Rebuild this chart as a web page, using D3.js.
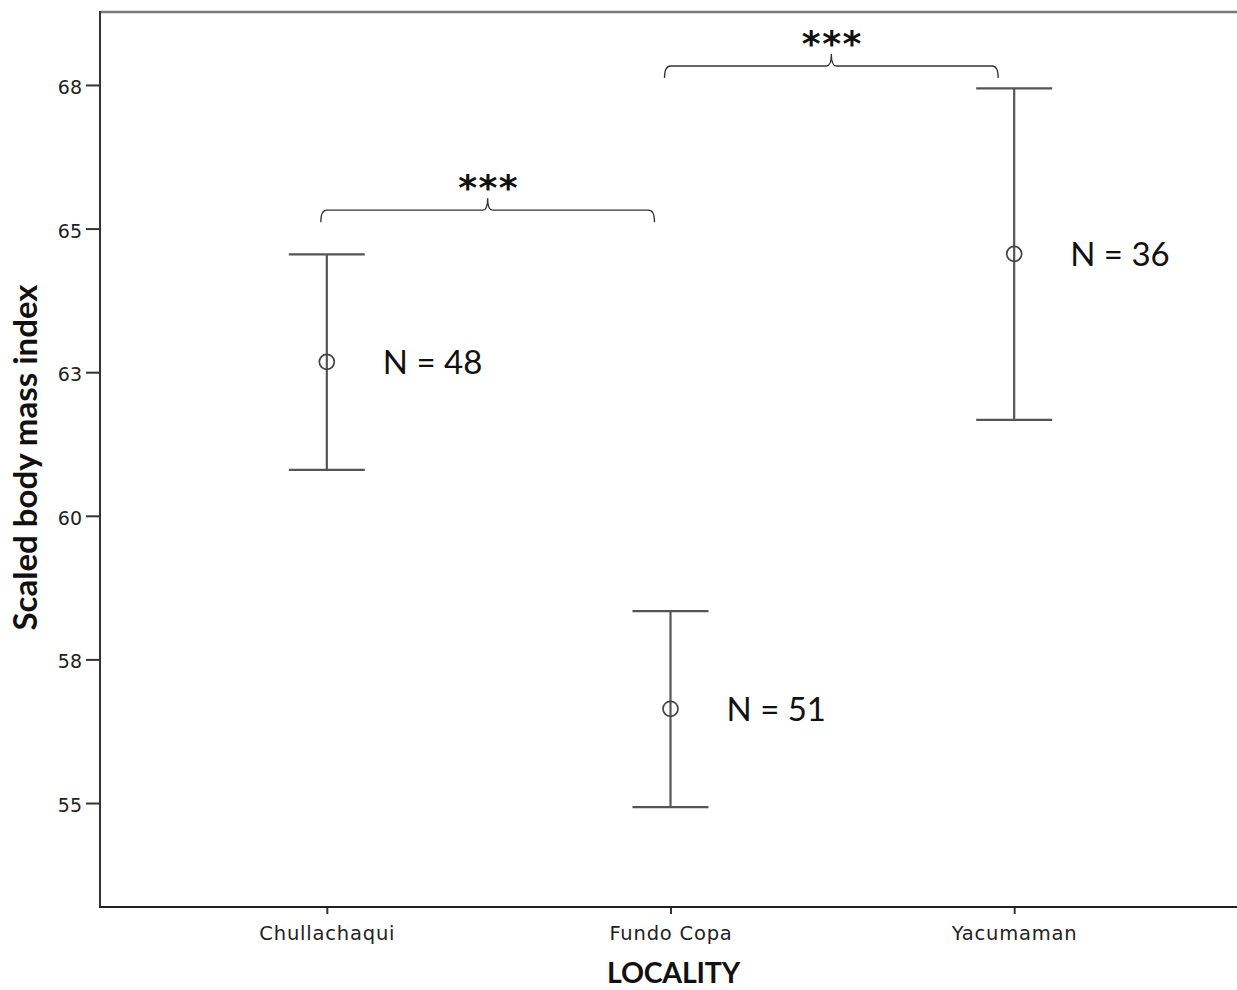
<!DOCTYPE html>
<html>
<head>
<meta charset="utf-8">
<script src="https://cdn.jsdelivr.net/npm/d3@7"></script>
<style>
  body { margin: 0; background: #fff; }
  svg { display: block; }
</style>
</head>
<body>
<svg id="chart" width="1237" height="990"></svg>
<script>
// data
const localities = ["Chullachaqui", "Fundo Copa", "Yacumaman"];
const means = [62.68, 56.64, 64.56];
const upper = [64.55, 58.34, 67.44];
const lower = [60.80, 54.93, 61.67];
const counts = [48, 51, 36];
const yTicks = [55, 57.5, 60, 62.5, 65, 67.5];

// significance brackets
const sigFrom = ["Chullachaqui", "Fundo Copa"];
const sigTo = ["Fundo Copa", "Yacumaman"];
const sigLabel = ["***", "***"];
const sigLevel = [65.32, 67.83];

const svg = d3.select("#chart");
const plotLeft = 100, plotRight = 1241, plotTop = 12, plotBottom = 907;

const x = d3.scalePoint().domain(localities).range([plotLeft, plotRight]).padding(0.66);
const y = d3.scaleLinear().domain([53.19, 68.77]).range([plotBottom, plotTop]);

// frame (top border grey)
svg.append("line")
    .attr("x1", plotLeft).attr("x2", plotRight)
    .attr("y1", plotTop).attr("y2", plotTop)
    .attr("stroke", "#7a7a7a").attr("stroke-width", 2.5);

// y axis
const yAxis = svg.append("g")
    .attr("transform", "translate(" + plotLeft + ",0)")
    .call(d3.axisLeft(y).tickValues(yTicks).tickFormat(d3.format(".0f")).tickSize(14).tickPadding(4));
yAxis.select(".domain").remove();
yAxis.append("line").attr("x1", 0).attr("x2", 0).attr("y1", plotTop - 1).attr("y2", plotBottom)
    .attr("stroke", "#333").attr("stroke-width", 2);
yAxis.selectAll(".tick line").attr("stroke", "#333").attr("stroke-width", 2);
yAxis.selectAll(".tick text")
    .attr("font-family", "DejaVu Sans").attr("font-size", 19).attr("fill", "#222")
    .attr("dy", "0.45em");

// x axis
const xAxis = svg.append("g")
    .attr("transform", "translate(0," + plotBottom + ")")
    .call(d3.axisBottom(x).tickSize(7).tickPadding(12));
xAxis.select(".domain").remove();
xAxis.append("line").attr("x1", plotLeft - 1).attr("x2", plotRight).attr("y1", 0).attr("y2", 0)
    .attr("stroke", "#222").attr("stroke-width", 2);
xAxis.selectAll(".tick line").attr("stroke", "#333").attr("stroke-width", 2);
xAxis.selectAll(".tick text")
    .attr("font-family", "DejaVu Sans").attr("font-size", 19.5).attr("fill", "#222")
    .attr("letter-spacing", 0.8);

// error bars
const bars = svg.append("g").attr("class", "bars");
const capHalf = 38;
localities.forEach(function (name, i) {
    const cx = x(name);
    const g = bars.append("g").attr("stroke", "#555").attr("stroke-width", 2.2).attr("fill", "none");
    g.append("line").attr("x1", cx).attr("x2", cx).attr("y1", y(upper[i])).attr("y2", y(lower[i]));
    g.append("line").attr("x1", cx - capHalf).attr("x2", cx + capHalf).attr("y1", y(upper[i])).attr("y2", y(upper[i]));
    g.append("line").attr("x1", cx - capHalf).attr("x2", cx + capHalf).attr("y1", y(lower[i])).attr("y2", y(lower[i]));
    g.append("circle").attr("cx", cx).attr("cy", y(means[i])).attr("r", 7.5)
        .attr("fill", "none").attr("stroke", "#444").attr("stroke-width", 1.7);

    svg.append("text")
        .attr("x", cx + 56).attr("y", y(means[i]))
        .attr("dy", "0.36em")
        .attr("font-family", "Lato").attr("font-size", 33).attr("fill", "#111")
        .text("N = " + counts[i]);
});

// brackets
function bracketPath(x1, x2, yy) {
    const xm = (x1 + x2) / 2;
    return "M" + x1 + "," + (yy + 12) +
        " Q" + x1 + "," + yy + " " + (x1 + 6) + "," + yy +
        " L" + (xm - 5) + "," + yy +
        " Q" + xm + "," + yy + " " + xm + "," + (yy - 12) +
        " Q" + xm + "," + yy + " " + (xm + 5) + "," + yy +
        " L" + (x2 - 6) + "," + yy +
        " Q" + x2 + "," + yy + " " + x2 + "," + (yy + 12);
}
sigFrom.forEach(function (a, i) {
    const x1 = x(a) - 6, x2 = x(sigTo[i]) - 16;
    const yy = y(sigLevel[i]);
    svg.append("path").attr("d", bracketPath(x1, x2, yy))
        .attr("fill", "none").attr("stroke", "#333").attr("stroke-width", 1.3);
    svg.append("text")
        .attr("x", (x1 + x2) / 2 + 1).attr("y", yy - 10)
        .attr("text-anchor", "middle")
        .attr("font-family", "DejaVu Sans").attr("font-weight", "bold")
        .attr("font-size", 36).attr("letter-spacing", 1.5).attr("fill", "#111")
        .text(sigLabel[i]);
});

// axis titles
svg.append("text")
    .attr("transform", "translate(37," + ((283 + 632) / 2) + ") rotate(-90)")
    .attr("text-anchor", "middle")
    .attr("font-family", "Lato").attr("font-weight", "bold").attr("font-size", 33).attr("fill", "#111")
    .text("Scaled body mass index");

svg.append("text")
    .attr("x", x("Fundo Copa") + 3).attr("y", 983)
    .attr("text-anchor", "middle")
    .attr("font-family", "Lato").attr("font-weight", "bold").attr("font-size", 28.5)
    .attr("letter-spacing", -0.2).attr("fill", "#111")
    .text("LOCALITY");
</script>
</body>
</html>
